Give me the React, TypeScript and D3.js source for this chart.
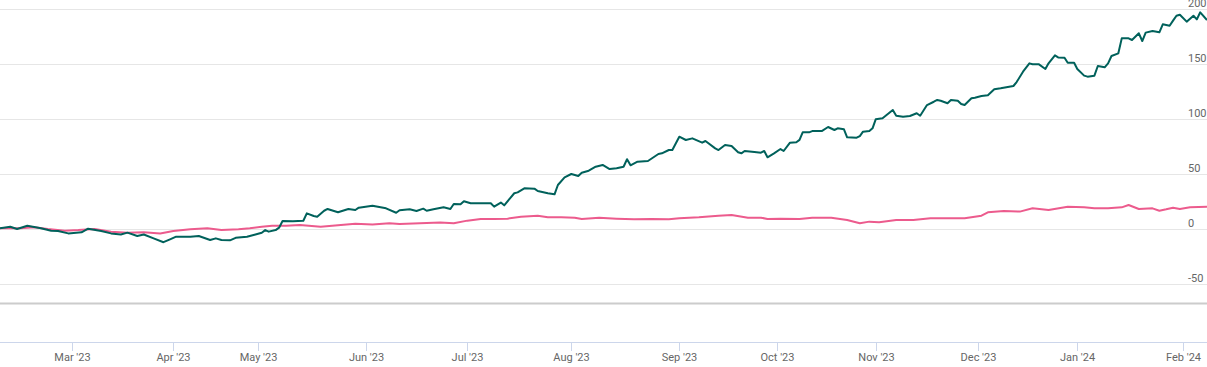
import React from 'react';
import * as d3 from 'd3';

// % change
const fundSeries: [string, number][] = [
  ['2023-02-08', 0.6], ['2023-02-11', 2], ['2023-02-13', 0], ['2023-02-16', 3], ['2023-02-20', 0.6],
  ['2023-02-23', -1.5], ['2023-02-25', -1.8], ['2023-02-28', -4], ['2023-03-04', -3], ['2023-03-06', 0.3],
  ['2023-03-10', -1.8], ['2023-03-13', -4], ['2023-03-16', -5], ['2023-03-18', -3.3], ['2023-03-21', -6.4],
  ['2023-03-23', -5], ['2023-03-26', -8.5], ['2023-03-29', -12], ['2023-03-31', -9.4], ['2023-04-02', -7],
  ['2023-04-07', -7], ['2023-04-10', -6.4], ['2023-04-14', -10], ['2023-04-16', -8.5], ['2023-04-18', -10],
  ['2023-04-21', -10.3], ['2023-04-23', -8], ['2023-04-27', -7], ['2023-04-30', -5], ['2023-05-02', -3.4],
  ['2023-05-03', -1], ['2023-05-04', -2.4], ['2023-05-06', -1], ['2023-05-07', 1.2], ['2023-05-08', 7.3],
  ['2023-05-11', 7], ['2023-05-14', 7.5], ['2023-05-15', 14.2], ['2023-05-17', 11.8], ['2023-05-18', 11.2],
  ['2023-05-20', 16.6], ['2023-05-21', 18.2], ['2023-05-24', 15.2], ['2023-05-27', 18.2], ['2023-05-29', 17.3],
  ['2023-05-30', 19.4], ['2023-06-03', 21.2], ['2023-06-07', 18.8], ['2023-06-10', 14.8], ['2023-06-11', 17],
  ['2023-06-14', 17.9], ['2023-06-16', 16.4], ['2023-06-18', 18.5], ['2023-06-19', 16.6], ['2023-06-21', 17.9],
  ['2023-06-24', 19.7], ['2023-06-26', 18.2], ['2023-06-27', 22.7], ['2023-06-29', 22.4], ['2023-06-30', 25.2],
  ['2023-07-02', 23.4], ['2023-07-08', 23.4], ['2023-07-09', 20.3], ['2023-07-11', 24], ['2023-07-12', 21.5],
  ['2023-07-15', 32.5], ['2023-07-16', 33.3], ['2023-07-18', 37], ['2023-07-21', 36.7], ['2023-07-22', 34.5],
  ['2023-07-25', 32.5], ['2023-07-27', 31.5], ['2023-07-28', 40], ['2023-07-30', 47], ['2023-08-01', 50],
  ['2023-08-03', 48.2], ['2023-08-04', 51.2], ['2023-08-06', 53], ['2023-08-08', 56.6], ['2023-08-10', 58.2],
  ['2023-08-12', 54.5], ['2023-08-14', 55.2], ['2023-08-16', 56.6], ['2023-08-17', 63.4], ['2023-08-18', 57.9],
  ['2023-08-20', 61.2], ['2023-08-23', 61.8], ['2023-08-26', 68.2], ['2023-08-27', 68.8], ['2023-08-29', 71.8],
  ['2023-08-30', 71.8], ['2023-09-01', 83.9], ['2023-09-03', 80.9], ['2023-09-05', 82.4], ['2023-09-08', 78.5],
  ['2023-09-09', 80], ['2023-09-12', 73.3], ['2023-09-13', 71.8], ['2023-09-15', 76.4], ['2023-09-17', 75.5],
  ['2023-09-19', 69.7], ['2023-09-20', 68.8], ['2023-09-21', 70.9], ['2023-09-24', 70], ['2023-09-26', 69.4],
  ['2023-09-27', 70.9], ['2023-09-28', 65.2], ['2023-09-30', 68.8], ['2023-10-02', 72.7], ['2023-10-03', 70.9],
  ['2023-10-05', 78.5], ['2023-10-07', 78.8], ['2023-10-08', 81], ['2023-10-09', 87.9], ['2023-10-11', 87.9],
  ['2023-10-12', 89], ['2023-10-15', 89], ['2023-10-17', 92.7], ['2023-10-19', 90], ['2023-10-20', 91.5],
  ['2023-10-22', 90.6], ['2023-10-23', 83.4], ['2023-10-26', 83], ['2023-10-27', 84.5], ['2023-10-28', 88.5],
  ['2023-10-30', 89], ['2023-10-31', 91.5], ['2023-11-01', 99.7], ['2023-11-03', 100.6], ['2023-11-06', 108.2],
  ['2023-11-07', 103], ['2023-11-09', 102.1], ['2023-11-11', 102.7], ['2023-11-13', 105.2], ['2023-11-14', 103],
  ['2023-11-16', 112.7], ['2023-11-18', 115.7], ['2023-11-19', 117.3], ['2023-11-20', 116.6], ['2023-11-22', 114.3],
  ['2023-11-23', 117.3], ['2023-11-25', 116.6], ['2023-11-26', 113.6], ['2023-11-27', 112.7], ['2023-11-29', 118.8],
  ['2023-11-30', 119.4], ['2023-12-02', 120.9], ['2023-12-04', 121.5], ['2023-12-06', 127], ['2023-12-08', 127.9],
  ['2023-12-12', 130], ['2023-12-13', 133.6], ['2023-12-15', 143], ['2023-12-17', 150.6], ['2023-12-18', 149.7],
  ['2023-12-20', 149.7], ['2023-12-22', 145.5], ['2023-12-23', 150.6], ['2023-12-25', 157.9], ['2023-12-26', 156],
  ['2023-12-28', 155.7], ['2023-12-29', 151.2], ['2023-12-31', 151.2], ['2024-01-01', 145.5], ['2024-01-03', 139.4],
  ['2024-01-04', 138.5], ['2024-01-06', 139.4], ['2024-01-07', 148.2], ['2024-01-09', 147], ['2024-01-10', 150.6],
  ['2024-01-11', 157.3], ['2024-01-13', 159.7], ['2024-01-14', 173.3], ['2024-01-16', 173.3], ['2024-01-17', 171.8],
  ['2024-01-19', 177.9], ['2024-01-20', 170.9], ['2024-01-21', 178.5], ['2024-01-23', 180], ['2024-01-25', 178.8],
  ['2024-01-26', 186.1], ['2024-01-28', 184.8], ['2024-01-29', 189.4], ['2024-01-30', 193.9], ['2024-01-31', 194.8],
  ['2024-02-02', 188.5], ['2024-02-04', 193.9], ['2024-02-05', 190.6], ['2024-02-06', 197], ['2024-02-08', 190],
];

const benchmarkSeries: [string, number][] = [
  ['2023-02-08', 0.6], ['2023-02-14', 0.6], ['2023-02-18', 1.5], ['2023-02-22', 0], ['2023-02-27', -1.5],
  ['2023-03-03', -1], ['2023-03-08', 0], ['2023-03-13', -2.4], ['2023-03-18', -3.4], ['2023-03-23', -3],
  ['2023-03-28', -4], ['2023-04-01', -1.8], ['2023-04-07', -0.3], ['2023-04-13', 0.6], ['2023-04-18', -1],
  ['2023-04-24', -0.3], ['2023-04-28', 0.6], ['2023-05-02', 2], ['2023-05-05', 3], ['2023-05-09', 3],
  ['2023-05-13', 3.6], ['2023-05-19', 2], ['2023-05-24', 3.3], ['2023-05-29', 4.8], ['2023-06-03', 4.2],
  ['2023-06-08', 5.2], ['2023-06-11', 4.5], ['2023-06-17', 5.2], ['2023-06-23', 5.8], ['2023-06-27', 5.2],
  ['2023-07-01', 7.6], ['2023-07-05', 9.1], ['2023-07-09', 9.1], ['2023-07-13', 9.4], ['2023-07-17', 11.2],
  ['2023-07-22', 12.1], ['2023-07-25', 10.6], ['2023-07-29', 10.6], ['2023-08-02', 10.3], ['2023-08-04', 9.1],
  ['2023-08-09', 10.3], ['2023-08-14', 9.4], ['2023-08-19', 8.8], ['2023-08-24', 9.1], ['2023-08-29', 8.8],
  ['2023-09-01', 9.7], ['2023-09-07', 10.6], ['2023-09-13', 12.1], ['2023-09-17', 12.7], ['2023-09-22', 10.3],
  ['2023-09-26', 10.3], ['2023-09-28', 9.1], ['2023-10-02', 9.4], ['2023-10-08', 9], ['2023-10-12', 10.3],
  ['2023-10-18', 10.3], ['2023-10-23', 8.2], ['2023-10-27', 5.2], ['2023-10-30', 6.7], ['2023-11-02', 6.1],
  ['2023-11-07', 8.2], ['2023-11-12', 8.2], ['2023-11-17', 9.7], ['2023-11-22', 9.7], ['2023-11-27', 9.7],
  ['2023-12-02', 12.1], ['2023-12-04', 15.2], ['2023-12-09', 16.4], ['2023-12-14', 15.8], ['2023-12-18', 18.8],
  ['2023-12-23', 17.3], ['2023-12-29', 20.3], ['2024-01-03', 19.7], ['2024-01-06', 18.8], ['2024-01-10', 18.8],
  ['2024-01-14', 19.7], ['2024-01-16', 21.8], ['2024-01-19', 18.2], ['2024-01-23', 18.8], ['2024-01-25', 16.6],
  ['2024-01-27', 17.9], ['2024-01-29', 19.4], ['2024-01-31', 18.2], ['2024-02-03', 19.7], ['2024-02-08', 20.3],
];

const yTicks = [-50, 0, 50, 100, 150, 200];
const monthTicks = [
  '2023-03-01', '2023-04-01', '2023-05-01', '2023-06-01', '2023-07-01', '2023-08-01',
  '2023-09-01', '2023-10-01', '2023-11-01', '2023-12-01', '2024-01-01', '2024-02-01',
];

const W = 1207;
const H = 367;
const parse = d3.timeParse('%Y-%m-%d');

// ordinal-ish axis: months are not equally wide, so map each month start to where it sits
const xKnots = ['2023-02-08', ...monthTicks, '2024-02-08'].map(d => parse(d) as Date);
const xPixels = [0, 71.7, 173.3, 258.3, 365.7, 467.3, 571.3, 679.3, 777.3, 875.7, 978.3, 1077.3, 1183.3, 1207];

const App: React.FC = () => {
  const x = d3.scaleTime<number>().domain(xKnots).range(xPixels);
  const y = d3.scaleLinear().domain([-50, 200]).range([284, 9]);
  const fmt = d3.timeFormat("%b '%y");

  const line = d3.line<[string, number]>()
    .x(d => x(parse(d[0]) as Date))
    .y(d => y(d[1]));

  const axisY = 342;

  return (
    <svg width={W} height={H} style={{ position: 'absolute', left: 0, top: 0 }}
      fontFamily="Roboto, 'Liberation Sans', sans-serif">
      <rect width={W} height={H} fill="#fff" />
      {yTicks.map(t => (
        <g key={t}>
          <line x1={0} x2={W} y1={y(t) + 0.5} y2={y(t) + 0.5} stroke="#e6e6e6" strokeWidth={1} />
          <text x={1188} y={y(t) - 2} fontSize={11} fill="#666">{t}</text>
        </g>
      ))}
      <line x1={0} x2={W} y1={303.5} y2={303.5} stroke="#cccccc" strokeWidth={2} />
      <line x1={0} x2={W} y1={axisY + 0.5} y2={axisY + 0.5} stroke="#ccd6eb" strokeWidth={1} />
      {monthTicks.map(m => {
        const px = Math.round(x(parse(m) as Date)) + 0.5;
        return (
          <g key={m}>
            <line x1={px} x2={px} y1={axisY} y2={axisY + 9} stroke="#ccd6eb" strokeWidth={1} />
            <text x={px} y={361} fontSize={11} fill="#666" textAnchor="middle">{fmt(parse(m) as Date)}</text>
          </g>
        );
      })}
      <path d={line(benchmarkSeries) ?? ''} fill="none" stroke="#ec5b8d" strokeWidth={2} strokeLinejoin="round" />
      <path d={line(fundSeries) ?? ''} fill="none" stroke="#00615b" strokeWidth={2} strokeLinejoin="round" />
    </svg>
  );
};

export default App;
